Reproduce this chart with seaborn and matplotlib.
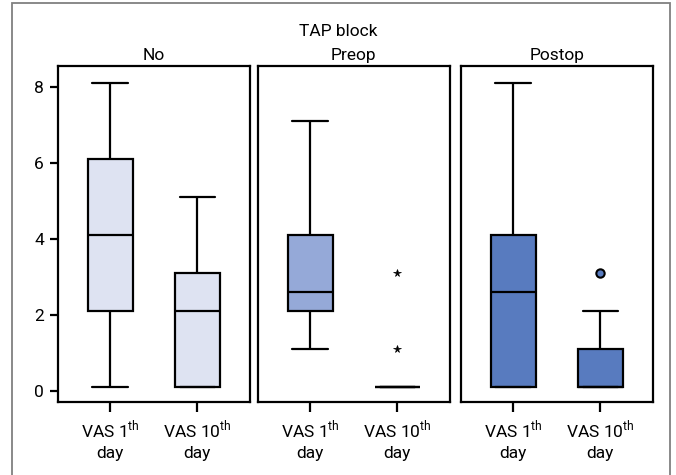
# -*- coding: utf-8 -*-
"""
Boxplots of VAS pain scores (day 1 vs day 10) by TAP block group.
"""

import pandas as pd
import matplotlib.pyplot as plt
from matplotlib.patches import Rectangle
import seaborn as sns

# ---- data ----
groups = ["No", "Preop", "Postop"]
times = ["VAS 1th day", "VAS 10th day"]
tick_labels = ["VAS 1$^{\\mathrm{th}}$\nday", "VAS 10$^{\\mathrm{th}}$\nday"]

no_day1 = [0.1, 2.1, 4.1, 6.1, 8.1]
no_day10 = [0.1, 0.1, 2.1, 3.1, 5.1]
preop_day1 = [1.1, 2.1, 2.6, 4.1, 7.1]
preop_day10 = [0.1, 0.1, 0.1, 0.1, 0.1, 0.1, 0.1, 1.1, 3.1]
postop_day1 = [0.1, 0.1, 2.6, 4.1, 8.1]
postop_day10 = [0.1, 0.1, 0.1, 0.1, 0.1, 1.1, 1.1, 2.1, 3.1]

values = {
    ("No", times[0]): no_day1, ("No", times[1]): no_day10,
    ("Preop", times[0]): preop_day1, ("Preop", times[1]): preop_day10,
    ("Postop", times[0]): postop_day1, ("Postop", times[1]): postop_day10,
}
rows = [(g, t, v) for (g, t), vals in values.items() for v in vals]
df = pd.DataFrame(rows, columns=["group", "time", "vas"])

colors = {"No": "#dee3f2", "Preop": "#95a9d8", "Postop": "#587bbf"}

# outliers drawn as circles, extremes (Preop panel) as stars
fliers = {
    "No": dict(marker="o", markerfacecolor=colors["No"], markeredgecolor="black",
               markersize=6, markeredgewidth=1.5),
    "Preop": dict(marker="*", markerfacecolor="black", markeredgecolor="black",
                  markersize=5.5, markeredgewidth=0.5),
    "Postop": dict(marker="o", markerfacecolor=colors["Postop"], markeredgecolor="black",
                   markersize=6, markeredgewidth=1.5),
}

# ---- style ----
sns.set_style("white")
plt.rcParams["font.family"] = ["Roboto", "DejaVu Sans"]
plt.rcParams["mathtext.fontset"] = "custom"
plt.rcParams["mathtext.rm"] = "Roboto"
plt.rcParams["text.color"] = "black"
plt.rcParams["xtick.color"] = "black"
plt.rcParams["ytick.color"] = "black"

fig = plt.figure(figsize=(6.76, 4.75), dpi=100)
lefts = [0.0858, 0.3817, 0.682]
axs = [fig.add_axes([l, 0.1537, 0.2835, 0.7074]) for l in lefts]

for ax, g in zip(axs, groups):
    d = df[df["group"] == g]
    sns.boxplot(
        data=d, x="time", y="vas", order=times,
        color=colors[g], saturation=1, linecolor="black", linewidth=1.6,
        width=0.52, whis=1.6, ax=ax, capwidths=0.41,
        flierprops=fliers[g],
    )
    ax.set_xlim(-0.6, 1.6)
    ax.set_ylim(-0.29, 8.55)
    ax.set_xlabel("")
    ax.set_ylabel("")
    ax.set_title(g, fontsize=12.5, pad=4)
    ax.set_xticks([0, 1])
    ax.set_xticklabels(tick_labels, fontsize=12.5, linespacing=1.4)
    ax.tick_params(axis="x", length=7, width=1.6, direction="out", bottom=True, pad=5)
    for s in ax.spines.values():
        s.set_linewidth(1.6)
        s.set_color("black")
    if g == "No":
        ax.set_yticks([0, 2, 4, 6, 8])
        ax.tick_params(axis="y", length=6, width=1.6, direction="out", left=True,
                       labelsize=12.5, pad=4)
    else:
        ax.set_yticks([])

fig.text(0.5, 0.934, "TAP block", ha="center", va="center", fontsize=12.5)

# outer frame of the figure
fig.patches.append(Rectangle((12 / 676, -0.05), 658 / 676, 1.05 - 3 / 475,
                             transform=fig.transFigure, fill=False,
                             edgecolor="#808080", linewidth=1.3))

plt.savefig("out.png", dpi=100)
